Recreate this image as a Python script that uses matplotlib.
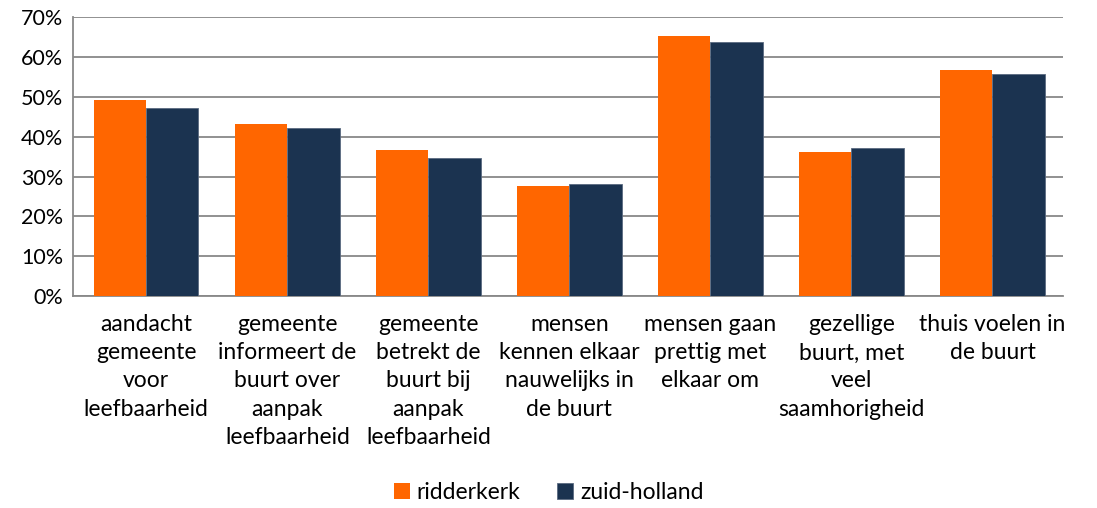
import matplotlib.pyplot as plt
import numpy as np

# categories and values (fractions)
categories = [
    "aandacht\ngemeente\nvoor\nleefbaarheid",
    "gemeente\ninformeert de\nbuurt over\naanpak\nleefbaarheid",
    "gemeente\nbetrekt de\nbuurt bij\naanpak\nleefbaarheid",
    "mensen\nkennen elkaar\nnauwelijks in\nde buurt",
    "mensen gaan\nprettig met\nelkaar om",
    "gezellige\nbuurt, met\nveel\nsaamhorigheid",
    "thuis voelen in\nde buurt",
]
ridderkerk = [0.492, 0.432, 0.367, 0.277, 0.653, 0.362, 0.567]
zuid_holland = [0.472, 0.422, 0.346, 0.281, 0.638, 0.372, 0.557]
series_names = ["ridderkerk", "zuid-holland"]

orange = "#ff6600"
navy = "#1b3350"

plt.rcParams['font.family'] = ['Lato', 'DejaVu Sans']

fig = plt.figure(figsize=(10.97, 5.08), dpi=100)
ax = fig.add_axes([0.0665, 0.417, 0.9025, 0.549])

x = np.arange(len(categories))
w = 0.37
ax.bar(x - w / 2, ridderkerk, w, color=orange, label=series_names[0], zorder=3)
ax.bar(x + w / 2, zuid_holland, w, color=navy, label=series_names[1], zorder=3,
       edgecolor="#5a6a80", linewidth=0.6)

ax.set_xlim(-0.52, 6.5)
ax.set_ylim(0, 0.7)
ax.set_yticks(np.arange(0, 0.71, 0.1))
ax.set_yticklabels([f"{int(round(v * 100))}%" for v in np.arange(0, 0.71, 0.1)], fontsize=15.5)
ax.yaxis.grid(True, color="#888888", linewidth=1.3, zorder=0)
ax.set_xticks(x)
ax.set_xticklabels(categories, fontsize=16.5, linespacing=1.42, va="top")
ax.tick_params(axis="x", length=0, pad=13)
ax.tick_params(axis="y", length=0, pad=7)

for s in ["top", "right"]:
    ax.spines[s].set_visible(False)
for s in ["left", "bottom"]:
    ax.spines[s].set_color("#888888")
    ax.spines[s].set_linewidth(1.3)

fig.legend(loc="lower center", bbox_to_anchor=(0.5, -0.03), ncol=2, frameon=False,
           fontsize=16.5, handlelength=0.7, handleheight=0.7, handletextpad=0.3,
           columnspacing=1.6)

fig.savefig("out.png", dpi=100)
